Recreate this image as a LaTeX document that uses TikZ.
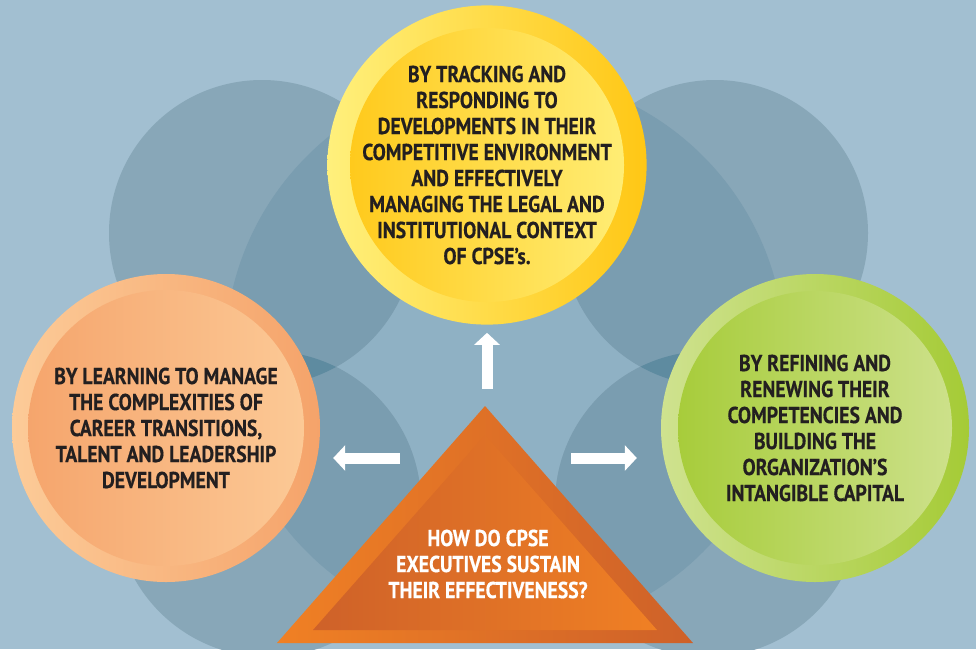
\documentclass[tikz,border=0pt]{standalone}
\usepackage{fontspec}
\newfontfamily\capsfont{PT Sans Bold}[FakeStretch=0.855,FakeBold=0.4]
\usetikzlibrary{arrows.meta}
\definecolor{bgblue}{HTML}{A2BFD1}
\definecolor{ringmid}{HTML}{8FB1C4}
\definecolor{ringdark}{HTML}{88A7B8}
\definecolor{ringlens}{HTML}{7A9DB0}
\definecolor{ringdeep}{HTML}{5E8BA0}
\definecolor{yelLight}{HTML}{FFF07C}
\definecolor{yelDark}{HTML}{FFC715}
\definecolor{oraLight}{HTML}{FCCB98}
\definecolor{oraDark}{HTML}{F5A36A}
\definecolor{grnLight}{HTML}{CFE28F}
\definecolor{grnDark}{HTML}{A5CB36}
\definecolor{triLight}{HTML}{F08024}
\definecolor{triDark}{HTML}{CE6129}
\definecolor{ink}{HTML}{231F20}

\begin{document}
\begin{tikzpicture}[x=1pt,y=-1pt,font=\capsfont\fontsize{23}{26}\selectfont]
    \tikzstyle{disc}=[circle,minimum size=308pt,inner sep=0pt,align=center,text=ink]
    \tikzstyle{flow arrow}=[draw=white,line width=11pt,-{Triangle[width=25pt,length=12pt]}]

    \useasboundingbox (0,0) rectangle (976,649);
    \fill[bgblue] (0,0) rectangle (976,649);

    % background rings
    \fill[ringmid] (505,354) circle (280pt);
    \foreach \c in {(262,233),(715,233),(268,504),(708,504)}
        \fill[ringdark] \c circle (153pt);
    \begin{scope}
        \clip (505,354) circle (280pt);
        \foreach \c in {(262,233),(715,233),(268,504),(708,504)}
            \fill[ringlens] \c circle (153pt);
    \end{scope}
    \begin{scope}
        \clip (505,354) circle (280pt);
        \clip (262,233) circle (153pt);
        \fill[ringdeep] (268,504) circle (153pt);
    \end{scope}
    \begin{scope}
        \clip (505,354) circle (280pt);
        \clip (715,233) circle (153pt);
        \fill[ringdeep] (708,504) circle (153pt);
    \end{scope}

    % the three answers
    \node(track)[disc,left color=yelLight,right color=yelDark,
        path picture={\shade[left color=yelDark,right color=yelLight]
            (path picture bounding box.center) circle (137pt);}]
        at (487,165) {BY TRACKING AND\\ RESPONDING TO\\ DEVELOPMENTS IN THEIR\\
        COMPETITIVE ENVIRONMENT\\ AND EFFECTIVELY\\ MANAGING THE LEGAL AND\\
        INSTITUTIONAL CONTEXT\\ OF CPSE’s.};
    \node(learn)[disc,left color=oraLight,right color=oraDark,
        path picture={\shade[left color=oraDark,right color=oraLight]
            (path picture bounding box.center) circle (138pt);}]
        at (166,428) {BY LEARNING TO MANAGE\\ THE COMPLEXITIES OF\\
        CAREER TRANSITIONS,\\ TALENT AND LEADERSHIP\\ DEVELOPMENT};
    \node(refine)[disc,left color=grnLight,right color=grnDark,
        path picture={\shade[left color=grnDark,right color=grnLight]
            (path picture bounding box.center) circle (137pt);}]
        at (815,428) {BY REFINING AND\\ RENEWING THEIR\\ COMPETENCIES AND\\
        BUILDING THE\\ ORGANIZATION’S\\ INTANGIBLE CAPITAL};

    % the question
    \coordinate(tl) at (277,643);
    \coordinate(tr) at (693,643);
    \coordinate(tt) at (485,406);
    \shade[left color=triLight,right color=triDark] (tl) -- (tr) -- (tt) -- cycle;
    \shade[left color=triDark,right color=triLight] (313,630) -- (657,630) -- (485,435) -- cycle;
    \node(question)[align=center,text=white] at (488,564)
        {HOW DO CPSE\\ EXECUTIVES SUSTAIN\\ THEIR EFFECTIVENESS?};

    \coordinate(upFrom) at (487,389);
    \coordinate(leftFrom) at (400,458);
    \coordinate(rightFrom) at (571,458);
    \draw[flow arrow,shorten >=8pt] (upFrom) -- (upFrom |- track.south);
    \draw[flow arrow,shorten >=13pt] (leftFrom) -- (leftFrom -| learn.east);
    \draw[flow arrow,shorten >=24pt] (rightFrom) -- (rightFrom -| refine.west);
\end{tikzpicture}
\end{document}
